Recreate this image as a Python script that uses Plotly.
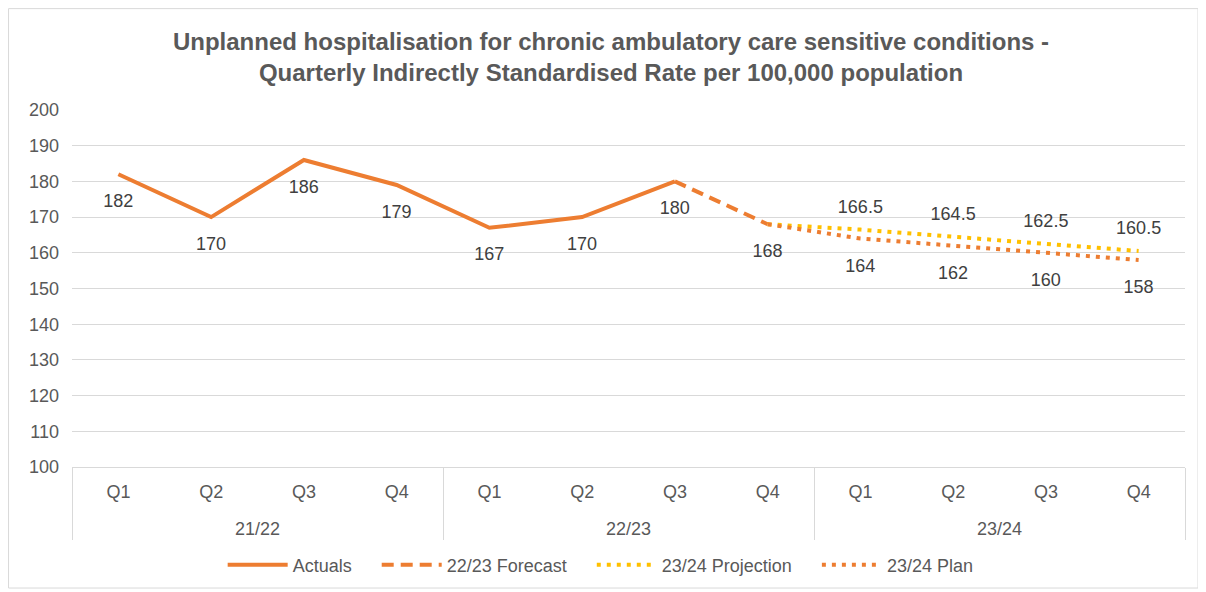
import plotly.graph_objects as go

# Data
years = ["21/22"] * 4 + ["22/23"] * 4 + ["23/24"] * 4
quarters = ["Q1", "Q2", "Q3", "Q4"] * 3

actuals = [182, 170, 186, 179, 167, 170, 180]
forecast = [180, 168]  # 22/23 Q3 -> Q4
projection = [168, 166.5, 164.5, 162.5, 160.5]  # 22/23 Q4 -> 23/24 Q4
plan = [168, 164, 162, 160, 158]

orange = "#ED7D31"
yellow = "#FFC000"
grey = "#595959"
grid = "#D9D9D9"
font_family = "Liberation Sans, Arial"

# leading line break drops the year row a little lower, like Excel does
year_rows = ["<br>" + y for y in years]
pad = "\u00a0" * 4

fig = go.Figure()

# invisible trace to fix the category order
fig.add_trace(go.Scatter(x=[year_rows, quarters], y=[None] * 12, showlegend=False, hoverinfo="skip"))

fig.add_trace(go.Scatter(
    x=[year_rows[:7], quarters[:7]], y=actuals, name="Actuals" + pad, mode="lines",
    line=dict(color=orange, width=4)))
fig.add_trace(go.Scatter(
    x=[year_rows[6:8], quarters[6:8]], y=forecast, name="22/23 Forecast" + pad, mode="lines",
    line=dict(color=orange, width=4, dash="12px,7px")))
fig.add_trace(go.Scatter(
    x=[year_rows[7:], quarters[7:]], y=projection, name="23/24 Projection" + pad, mode="lines",
    line=dict(color=yellow, width=4, dash="4px,6px")))
fig.add_trace(go.Scatter(
    x=[year_rows[7:], quarters[7:]], y=plan, name="23/24 Plan", mode="lines",
    line=dict(color=orange, width=4, dash="4px,6px")))

# data labels (transparent markers push the text away from the line)
label_font = dict(family=font_family, size=18, color="#404040")
fig.add_trace(go.Scatter(
    x=[year_rows[:8], quarters[:8]], y=actuals + [forecast[1]], mode="markers+text",
    text=[str(v) for v in actuals + [forecast[1]]], textposition="bottom center",
    marker=dict(size=29, opacity=0), textfont=label_font, showlegend=False, hoverinfo="skip"))
fig.add_trace(go.Scatter(
    x=[year_rows[8:], quarters[8:]], y=projection[1:], mode="markers+text",
    text=[str(v) for v in projection[1:]], textposition="top center",
    marker=dict(size=18, opacity=0), textfont=label_font, showlegend=False, hoverinfo="skip"))
fig.add_trace(go.Scatter(
    x=[year_rows[8:], quarters[8:]], y=plan[1:], mode="markers+text",
    text=[str(v) for v in plan[1:]], textposition="bottom center",
    marker=dict(size=30, opacity=0), textfont=label_font, showlegend=False, hoverinfo="skip"))

fig.update_layout(
    width=1206, height=592,
    paper_bgcolor="white", plot_bgcolor="white",
    margin=dict(l=64, r=29, t=102, b=133, autoexpand=False),
    font=dict(family=font_family, size=18, color=grey),
    title=dict(
        text="Unplanned hospitalisation for chronic ambulatory care sensitive conditions -<br>"
             "Quarterly Indirectly Standardised Rate per 100,000 population",
        x=0.5, xanchor="center", y=0.929, yanchor="middle",
        font=dict(size=24, color=grey, family=font_family, weight="bold")),
    legend=dict(orientation="h", x=0.475, xanchor="center", y=-0.2745, yanchor="middle",
                itemwidth=60, font=dict(size=18, color=grey)),
    showlegend=True,
)

fig.update_yaxes(range=[100, 200], dtick=10, showgrid=True, gridcolor=grid, gridwidth=1,
                 zeroline=False, showline=False, ticks="", ticklabelstandoff=12,
                 tickfont=dict(size=18, color=grey))
fig.update_xaxes(type="multicategory", range=[-0.5, 11.5], showgrid=False,
                 showline=True, linecolor=grid, linewidth=1,
                 showdividers=True, dividercolor=grid, dividerwidth=1, ticks="",
                 ticklabelstandoff=8, tickfont=dict(size=18, color=grey))

# chart outline
fig.add_shape(type="rect", xref="paper", yref="paper",
              x0=-0.057, x1=1.0117, y0=-0.339, y1=1.284,
              line=dict(color=grid, width=1))

fig.write_html("out.html")
